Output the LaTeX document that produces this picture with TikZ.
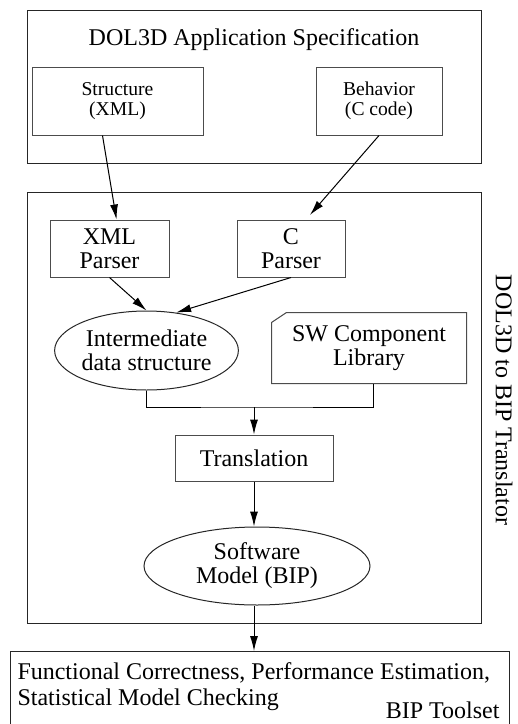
\documentclass[tikz,border=0pt]{standalone}
\usepackage{fontspec}
\setmainfont{Liberation Serif}
\usepackage{tikz}
\usetikzlibrary{arrows.meta}
\usetikzlibrary{positioning}
\usetikzlibrary{shapes.geometric}
\begin{document}
\begin{tikzpicture}[x=1pt,y=-1pt,
    line width=1pt,
    every node/.style={font=\fontsize{24}{24}\selectfont,align=center,inner sep=0pt},
    outerbox/.style={draw=black!85,rectangle},
    block/.style={draw=black!70,rectangle},
    blob/.style={draw=black!85,ellipse},
    flow/.style={-{Latex[length=15pt,width=8pt]},black}]
        \useasboundingbox (0,0) rectangle (518,724);
        % outer frames
        \node[outerbox,minimum width=454pt,minimum height=153pt] (spec) at (254,86.5){};
        \node[anchor=base] (spectitle) at (254,45){DOL3D Application Specification};
        \node[outerbox,minimum width=454pt,minimum height=431pt] (transl) at (254,407.5){};
        \node[rotate=-90] (transltitle) at (504,400){DOL3D to BIP Translator};
        % application inputs
        \node[block,minimum width=171pt,minimum height=68pt,font=\fontsize{19.6}{20}\selectfont] (struct) at (117.5,101){Structure\\(XML)};
        \node[block,minimum width=126pt,minimum height=68pt,font=\fontsize{19.6}{20}\selectfont] (behav) at (379,101){Behavior\\(C code)};
        % translator parts
        \node[block,minimum width=119pt,minimum height=57pt] (xmlp) at (109.5,248.5){XML\\Parser};
        \node[block,minimum width=108pt,minimum height=57pt] (cp) at (291,248.5){C\\Parser};
        \node[blob,minimum width=183pt,minimum height=79pt] (inter) at (146.5,350.5){Intermediate\\data structure};
        \node[minimum width=194pt,minimum height=70pt] (lib) at (369,348){SW Component\\Library};
        \draw[black!70] ([yshift=-10pt]lib.north west) -- ([xshift=15pt]lib.north west) -- (lib.north east)
            -- (lib.south east) -- (lib.south west) -- cycle;
        \node[block,minimum width=158pt,minimum height=46pt] (trans) at (254,458){Translation};
        \node[blob,minimum width=226pt,minimum height=78pt] (swm) at (257,566){Software\\Model (BIP)};
        \coordinate (join) at (254,407);
        % toolset
        \node[outerbox,anchor=north west,minimum width=499pt,minimum height=90pt] (tools) at (10,651){};
        \node[anchor=base west,align=left,font=\fontsize{24}{26}\selectfont] (toolstext) at (17,705){Functional Correctness, Performance Estimation,\\Statistical Model Checking};
        \node[anchor=base east] (toolsname) at (500,718){BIP Toolset};
        % connectors
        \draw[flow] ([xshift=-15pt]struct.south) -- ([xshift=7pt]xmlp.north);
        \draw[flow,shorten >=6pt] (behav.south) -- ([xshift=15pt]cp.north);
        \draw[flow] (xmlp.south) -- (inter.north);
        \draw[flow] (cp.south) -- (inter.52);
        \draw (inter.south) |- (join) -| ([xshift=4pt]lib.south);
        \draw[flow] (join) -- (trans.north);
        \draw[flow] (trans.south) -- (trans.south |- swm.north);
        \draw[flow] (trans.south |- swm.south) -- (trans.south |- tools.north);
    \end{tikzpicture}
\end{document}
